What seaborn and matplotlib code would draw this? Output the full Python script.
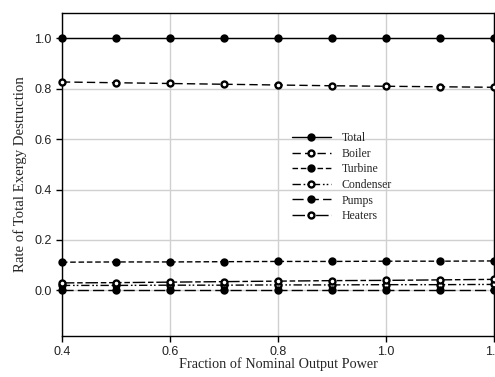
import matplotlib
matplotlib.use("Agg")
import matplotlib.pyplot as plt
import seaborn as sns
import pandas as pd

fraction = [0.4, 0.5, 0.6, 0.7, 0.8, 0.9, 1.0, 1.1, 1.2]
total = [1.0, 1.0, 1.0, 1.0, 1.0, 1.0, 1.0, 1.0, 1.0]
boiler = [0.826, 0.823, 0.820, 0.817, 0.814, 0.811, 0.809, 0.807, 0.805]
turbine = [0.112, 0.113, 0.113, 0.114, 0.115, 0.115, 0.116, 0.116, 0.117]
condenser = [0.020, 0.020, 0.021, 0.021, 0.022, 0.022, 0.023, 0.023, 0.024]
pumps = [0.003, 0.003, 0.003, 0.003, 0.003, 0.003, 0.003, 0.003, 0.003]
heaters = [0.030, 0.031, 0.033, 0.035, 0.037, 0.039, 0.040, 0.042, 0.044]
names = ["Total", "Boiler", "Turbine", "Condenser", "Pumps", "Heaters"]
series = [total, boiler, turbine, condenser, pumps, heaters]

styles = {
    "Total": dict(ls="-", mfc="black"),
    "Boiler": dict(ls=(0, (6, 3)), mfc="white"),
    "Turbine": dict(ls=(0, (4, 2)), mfc="black"),
    "Condenser": dict(ls=(0, (6, 2, 1.2, 1.5, 1.2, 2)), mfc="white"),
    "Pumps": dict(ls=(0, (8, 3)), mfc="black"),
    "Heaters": dict(ls=(0, (9, 2, 4, 2)), mfc="white"),
}

sns.set_style("white")
plt.rcParams["font.family"] = ["Liberation Sans", "DejaVu Sans"]

fig = plt.figure(figsize=(4.95, 3.77), dpi=100)
ax = fig.add_axes([0.125, 0.109, 0.873, 0.857])

for name, vals in zip(names, series):
    df = pd.DataFrame({"x": fraction, "y": vals})
    st = styles[name]
    sns.lineplot(data=df, x="x", y="y", ax=ax, color="black", linewidth=1.0,
                 linestyle=st["ls"], marker="o", markersize=4.3,
                 markerfacecolor=st["mfc"], markeredgecolor="black",
                 markeredgewidth=1.7, label=name, clip_on=False, zorder=3)

ax.set_xlim(0.4, 1.2)
ax.set_ylim(-0.18, 1.1)
ax.set_xticks([0.4, 0.6, 0.8, 1.0, 1.2])
ax.set_xticklabels(["0.4", "0.6", "0.8", "1.0", "1.2"])
ax.set_yticks([0.0, 0.2, 0.4, 0.6, 0.8, 1.0])
ax.set_yticklabels(["0.0", "0.2", "0.4", "0.6", "0.8", "1.0"])
ax.grid(True, color="#d0d0d0", linewidth=1.0)
ax.set_axisbelow(True)
ax.tick_params(axis="both", direction="out", length=4, width=1, labelsize=9,
               bottom=True, left=True, color="black", labelcolor="#222222")
for s in ["left", "bottom", "top", "right"]:
    ax.spines[s].set_color("black")
    ax.spines[s].set_linewidth(1.0)

ax.set_xlabel("Fraction of Nominal Output Power", family="Liberation Serif",
              fontsize=10.3, labelpad=-1)
ax.set_ylabel("Rate of Total Exergy Destruction", family="Liberation Serif",
              fontsize=10.6, labelpad=5)

leg = ax.legend(loc="upper left", bbox_to_anchor=(0.532, 0.63), frameon=False,
                prop={"family": "Liberation Serif", "size": 8.5},
                handlelength=3.3, labelspacing=0.3, handletextpad=0.9,
                borderpad=0, borderaxespad=0)

fig.savefig("out.png", dpi=100)
